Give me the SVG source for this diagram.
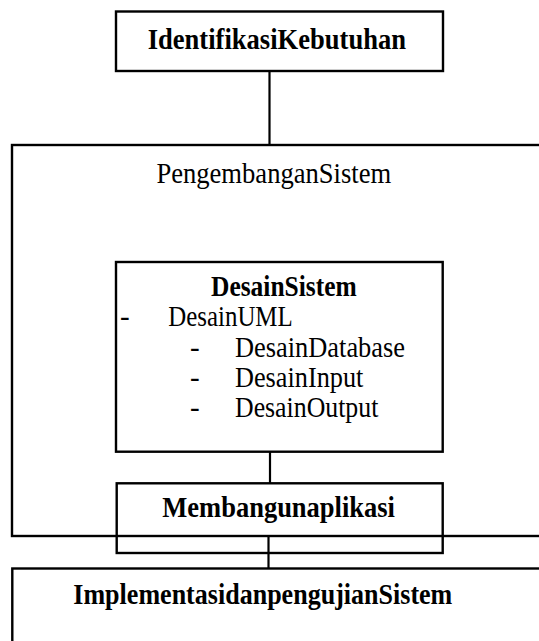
<svg xmlns="http://www.w3.org/2000/svg" width="539" height="641" viewBox="0 0 539 641">
<style>
.box{fill:none;stroke:#000;stroke-width:2.4}
.ln{stroke:#000;stroke-width:2.2;fill:none}
.t{font-family:"Liberation Serif","Times New Roman",serif;font-size:29px;fill:#000}
.b{font-weight:bold}
</style>
<rect width="539" height="641" fill="#fff"/>
<g id="connectors">
<line class="ln" x1="269.5" y1="71" x2="269.5" y2="145"/>
<line class="ln" x1="270" y1="452" x2="270" y2="483"/>
<line class="ln" x1="268.5" y1="536" x2="268.5" y2="568.5"/>
</g>
<g id="identifikasi">
<rect class="box" x="116" y="11.5" width="327" height="59.5"/>
<text class="t b" x="147.7" y="49.3" textLength="258.3" lengthAdjust="spacingAndGlyphs">IdentifikasiKebutuhan</text>
</g>
<g id="pengembangan">
<rect class="box" x="12" y="145" width="600" height="391"/>
<text class="t" x="156.4" y="183" textLength="234.8" lengthAdjust="spacingAndGlyphs">PengembanganSistem</text>
</g>
<g id="desain">
<rect class="box" x="116" y="262" width="326.7" height="189.7"/>
<text class="t b" x="211" y="295.7" textLength="145.7" lengthAdjust="spacingAndGlyphs">DesainSistem</text>
<text class="t" x="120" y="326">-</text>
<text class="t" x="168.3" y="326" textLength="124.4" lengthAdjust="spacingAndGlyphs">DesainUML</text>
<text class="t" x="190" y="356.7">-</text>
<text class="t" x="235" y="356.7" textLength="170" lengthAdjust="spacingAndGlyphs">DesainDatabase</text>
<text class="t" x="190" y="386.7">-</text>
<text class="t" x="235" y="386.7" textLength="128.3" lengthAdjust="spacingAndGlyphs">DesainInput</text>
<text class="t" x="190" y="416.7">-</text>
<text class="t" x="235" y="416.7" textLength="143.3" lengthAdjust="spacingAndGlyphs">DesainOutput</text>
</g>
<g id="membangun">
<rect class="box" x="116.7" y="483.3" width="326" height="69.7"/>
<text class="t b" x="162.3" y="516.7" textLength="232.7" lengthAdjust="spacingAndGlyphs">Membangunaplikasi</text>
</g>
<g id="implementasi">
<rect class="box" x="12.3" y="568.5" width="600" height="200"/>
<text class="t b" x="73.3" y="604" textLength="379" lengthAdjust="spacingAndGlyphs">ImplementasidanpengujianSistem</text>
</g>
</svg>
